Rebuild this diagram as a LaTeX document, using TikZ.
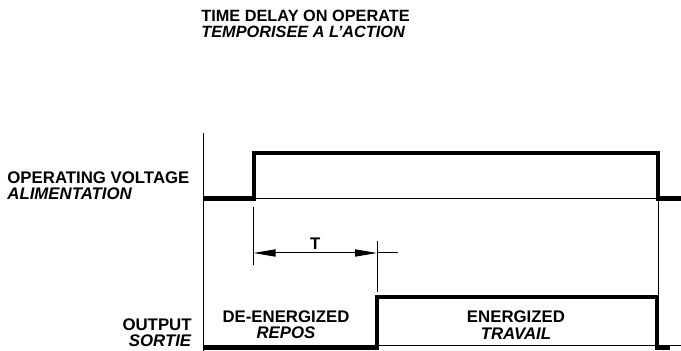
\documentclass[tikz,border=0pt]{standalone}
\usepackage{fontspec}
\setmainfont{Liberation Sans}
\usetikzlibrary{arrows.meta,positioning}

\begin{document}
\begin{tikzpicture}[
      x=0.5pt, y=-0.5pt,
      wave/.style={line width=2.1pt, line join=miter},
      hair/.style={line width=0.5pt},
      dimline/.style={hair, {Triangle[length=11pt,width=3.6pt]}-{Triangle[length=11pt,width=3.6pt]}},
      lbl/.style={font=\fontsize{8.4}{8.2}\selectfont\bfseries, inner sep=0pt}
      ]
      \useasboundingbox (0,0) rectangle (681,351);
      \node[lbl, font=\fontsize{8.15}{8}\selectfont\bfseries, align=left, anchor=west] (title) at (201,24) {TIME DELAY ON OPERATE\\\textit{TEMPORISEE A L'ACTION}};
      \node[lbl, align=left, anchor=west] (supply) at (7,186) {OPERATING VOLTAGE\\\textit{ALIMENTATION}};
      \node[lbl, align=right, anchor=east] (output) at (192,333) {OUTPUT\\\textit{SORTIE}};
      \node[lbl, align=center] (repos) at (286,325) {DE-ENERGIZED\\\textit{REPOS}};
      \node[lbl, align=center] (travail) at (516,325) {ENERGIZED\\\textit{TRAVAIL}};
      % axis
      \draw[hair] (203,133) -- (203,351);
      % operating voltage
      \draw[hair] (203,199) -- (658,199);
      \draw[wave] (203,198.5) -- (254,198.5) -- (254,153) -- (658,153) -- (658,198.5) -- (681,198.5);
      % output
      \draw[hair] (377,346) -- (681,346);
      \draw[wave] (203,347.5) -- (377,347.5) -- (377,297) -- (657,297) -- (657,347.5) -- (670,347.5);
      % guides
      \draw[hair] (658,199) -- (658,297);
      \draw[hair] (253.5,207) -- (253.5,265);
      \draw[hair] (377,241) -- (377,292);
      \coordinate (tstart) at (253.5,253);
      \coordinate (tend) at (377,253);
      \coordinate (text) at (398,253);
      \draw[dimline] (tstart) -- node[lbl, above=1.5pt] (tlabel) {T} (tend);
      \draw[hair] (tend) -- (text);
\end{tikzpicture}
\end{document}
